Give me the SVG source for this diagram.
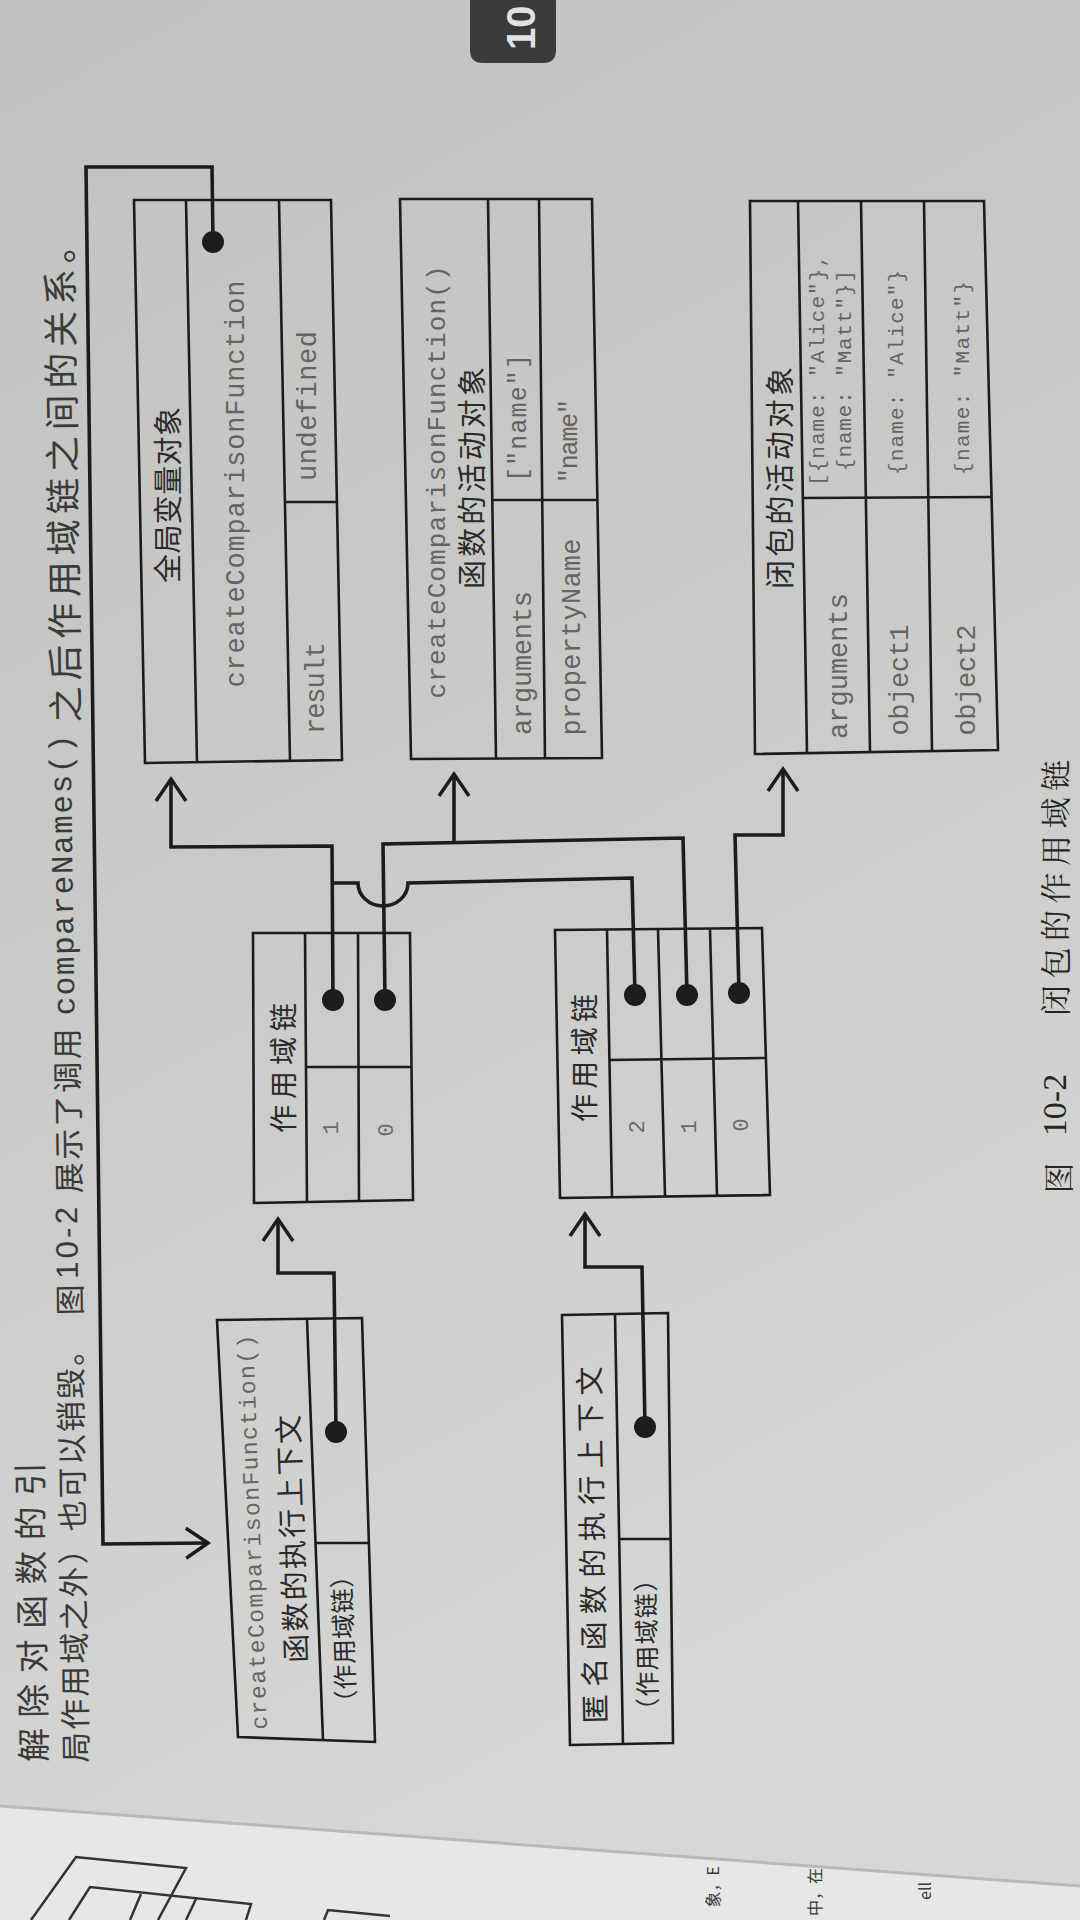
<svg xmlns="http://www.w3.org/2000/svg" width="1080" height="1920" viewBox="0 0 1080 1920">
<defs>
<linearGradient id="paper" x1="0" y1="0" x2="0.3" y2="1">
<stop offset="0" stop-color="#c2c2c0"/>
<stop offset="0.5" stop-color="#cacac8"/>
<stop offset="1" stop-color="#d7d7d5"/>
</linearGradient>
<marker id="arr" viewBox="-26 -18 30 36" markerWidth="30" markerHeight="36" refX="0" refY="0" orient="auto" markerUnits="userSpaceOnUse" overflow="visible">
<path d="M-22,-15 L0,0 L-22,15" fill="none" stroke="#1c1c1c" stroke-width="3.5" stroke-linejoin="miter"/>
</marker>
<style>
.box{fill:none;stroke:#1c1c1c;stroke-width:2.6;stroke-linejoin:miter}
.sep{fill:none;stroke:#1c1c1c;stroke-width:2.6}
.con{fill:none;stroke:#1c1c1c;stroke-width:3.6;stroke-linejoin:miter}
.dot{fill:#1c1c1c}
.m{font-family:"Liberation Mono","DejaVu Sans Mono",monospace;fill:#646464;font-size:27px;text-anchor:middle;dominant-baseline:central}
.ms{font-family:"Liberation Mono","DejaVu Sans Mono",monospace;fill:#646464;font-size:21px;text-anchor:start;dominant-baseline:central}
.c{font-family:"Noto Sans CJK SC","Noto Sans",sans-serif;fill:#2a2a2a;font-size:29px;text-anchor:middle;dominant-baseline:central}
.n{font-family:"Liberation Mono",monospace;fill:#6a6a6a;font-size:22px;text-anchor:middle;dominant-baseline:central}
.p{font-family:"Noto Sans CJK SC","Noto Sans",sans-serif;fill:#3a3a3a;font-size:31px;text-anchor:middle;dominant-baseline:central}
.pm{font-family:"Liberation Mono",monospace;fill:#3a3a3a;font-size:31px;text-anchor:middle;dominant-baseline:central}
.f{font-family:"Noto Sans CJK SC","Noto Sans",sans-serif;fill:#3a3a3a;font-size:16px;text-anchor:end;dominant-baseline:central}
.cap{font-family:"Noto Serif CJK SC","Noto Sans CJK SC",serif;fill:#262626;font-size:31px;text-anchor:middle;dominant-baseline:central}
</style>
</defs>

<g id="page">
<rect x="0" y="0" width="1080" height="1920" fill="url(#paper)"/>
<path d="M0,1806 L1080,1886 L1080,1920 L0,1920 Z" fill="#e7e7e5"/>
<path d="M0,1806 L1080,1886" stroke="#b9b9b7" stroke-width="3" fill="none"/>
<path d="M31,1920 L76,1857 L186,1868 L158,1920" fill="none" stroke="#333" stroke-width="2.5"/>
<path d="M69,1920 L90,1887 L251,1904 L246,1920" fill="none" stroke="#333" stroke-width="2.5"/>
<path d="M141,1894 L130,1920 M196,1899 L186,1920" fill="none" stroke="#333" stroke-width="2.5"/>
<path d="M324,1920 L328,1910 L390,1916" fill="none" stroke="#333" stroke-width="2.5"/>
<path d="M470,-12 L556,-12 L556,50 Q556,63 543,63 L483,63 Q470,63 470,50 Z" fill="#3a3a3a"/>
<text transform="translate(521,50) rotate(-90)" font-family="Liberation Sans,Arial,sans-serif" font-weight="bold" font-size="40" fill="#e2e2e2" dominant-baseline="central">10</text>
<text class="p" transform="translate(30,1612) rotate(-90.8)" style="font-size:34px" textLength="300" lengthAdjust="spacing">解除对函数的引</text>
<text class="p" transform="translate(71,1549) rotate(-90.8)" textLength="428" lengthAdjust="spacing">局作用域之外）也可以销毁。</text>
<text class="p" transform="translate(68,1300) rotate(-90.8)">图</text>
<text class="p" transform="translate(67,1243) rotate(-90.8)" style="font-family:'Liberation Sans',sans-serif" textLength="72" lengthAdjust="spacing">10-2</text>
<text class="p" transform="translate(66,1111) rotate(-90.8)" textLength="165" lengthAdjust="spacing">展示了调用</text>
<text class="pm" transform="translate(64,875) rotate(-90.8)" textLength="281" lengthAdjust="spacing">compareNames()</text>
<text class="p" transform="translate(60,475) rotate(-90.8)" style="font-size:36px" textLength="495" lengthAdjust="spacing">之后作用域链之间的关系。</text>
<text class="f" transform="translate(712,1866) rotate(-90)">象，E</text>
<text class="f" transform="translate(814,1868) rotate(-90)">中，在</text>
<text class="f" transform="translate(924,1882) rotate(-90)">ell</text>
</g>

<g id="global-object">
<path class="box" d="M134,200 L331,200 L342,760 L145,763 Z"/>
<path class="sep" d="M186,200 L197,763 M279,200 L290,761 M285,502 L337,502"/>
<text class="c" transform="translate(166,495) rotate(-90)" textLength="176" lengthAdjust="spacing">全局变量对象</text>
<text class="m" transform="translate(237,484) rotate(-90)" textLength="407" lengthAdjust="spacing">createComparisonFunction</text>
<text class="m" transform="translate(309,406) rotate(-90)" textLength="150" lengthAdjust="spacing">undefined</text>
<text class="m" transform="translate(317,688) rotate(-90)" textLength="92" lengthAdjust="spacing">result</text>
</g>

<g id="cf-activation">
<path class="box" d="M400,199 L592,199 L602,758 L411,759 Z"/>
<path class="sep" d="M488,199 L496,759 M539,199 L545,759 M492,500 L597,500"/>
<text class="m" transform="translate(438,482) rotate(-90)" style="font-size:26px" textLength="433" lengthAdjust="spacing">createComparisonFunction()</text>
<text class="c" transform="translate(470,478) rotate(-90)" textLength="222" lengthAdjust="spacing">函数的活动对象</text>
<text class="m" transform="translate(519,418) rotate(-90)" style="font-size:25px" textLength="128" lengthAdjust="spacing">["name"]</text>
<text class="m" transform="translate(524,663) rotate(-90)" textLength="144" lengthAdjust="spacing">arguments</text>
<text class="m" transform="translate(570,441) rotate(-90)" style="font-size:25px" textLength="84" lengthAdjust="spacing">"name"</text>
<text class="m" transform="translate(573,637) rotate(-90)" textLength="197" lengthAdjust="spacing">propertyName</text>
</g>

<g id="closure-activation">
<path class="box" d="M750,201 L984,201 L998,750 L755,754 Z"/>
<path class="sep" d="M798,201 L807,753 M861,201 L870,752 M924,201 L932,751 M802,498 L991,497"/>
<text class="c" transform="translate(778,478) rotate(-90)" textLength="222" lengthAdjust="spacing">闭包的活动对象</text>
<text class="ms" transform="translate(818,486) rotate(-90)" textLength="231" lengthAdjust="spacing">[{name: "Alice"},</text>
<text class="ms" transform="translate(845,471) rotate(-90)" textLength="201" lengthAdjust="spacing">{name: "Matt"}]</text>
<text class="m" transform="translate(840,666) rotate(-90)" textLength="146" lengthAdjust="spacing">arguments</text>
<text class="ms" transform="translate(897,475) rotate(-90)" textLength="205" lengthAdjust="spacing">{name: "Alice"}</text>
<text class="m" transform="translate(901,680) rotate(-90)" textLength="111" lengthAdjust="spacing">object1</text>
<text class="ms" transform="translate(963,475) rotate(-90)" textLength="194" lengthAdjust="spacing">{name: "Matt"}</text>
<text class="m" transform="translate(968,680) rotate(-90)" textLength="111" lengthAdjust="spacing">object2</text>
</g>

<g id="scope-chain-1">
<path class="box" d="M253,933 L410,933 L413,1200 L254,1203 Z"/>
<path class="sep" d="M305,933 L307,1203 M358,933 L359,1202 M306,1067 L411,1067"/>
<text class="c" transform="translate(282,1068) rotate(-90)" style="font-size:28px" textLength="130" lengthAdjust="spacing">作用域链</text>
<text class="n" transform="translate(332,1128) rotate(-90)">1</text>
<text class="n" transform="translate(387,1130) rotate(-90)">0</text>
</g>

<g id="scope-chain-2">
<path class="box" d="M555,930 L762,928 L770,1195 L560,1198 Z"/>
<path class="sep" d="M607,930 L612,1197 M658,929 L665,1196 M710,929 L717,1196 M609,1060 L766,1058"/>
<text class="c" transform="translate(583,1058) rotate(-90)" style="font-size:28px" textLength="128" lengthAdjust="spacing">作用域链</text>
<text class="n" transform="translate(638,1127) rotate(-90)">2</text>
<text class="n" transform="translate(690,1127) rotate(-90)">1</text>
<text class="n" transform="translate(742,1125) rotate(-90)">0</text>
</g>

<g id="cf-context">
<path class="box" d="M217,1320 L362,1318 L375,1742 L238,1737 Z"/>
<path class="sep" d="M307,1319 L323,1740 M315,1543 L369,1543"/>
<text class="m" transform="translate(254,1532) rotate(-92)" style="font-size:23px" textLength="395" lengthAdjust="spacing">createComparisonFunction()</text>
<text class="c" transform="translate(290,1539) rotate(-92)" textLength="248" lengthAdjust="spacing">函数的执行上下文</text>
<text class="c" transform="translate(342,1639) rotate(-92)" style="font-size:25px" textLength="152" lengthAdjust="spacing">（作用域链）</text>
</g>

<g id="anon-context">
<path class="box" d="M562,1315 L668,1313 L673,1743 L570,1745 Z"/>
<path class="sep" d="M615,1314 L623,1745 M619,1539 L671,1539"/>
<text class="c" transform="translate(590,1545) rotate(-91)" textLength="357" lengthAdjust="spacing">匿名函数的执行上下文</text>
<text class="c" transform="translate(645,1645) rotate(-91)" style="font-size:25px" textLength="156" lengthAdjust="spacing">（作用域链）</text>
</g>

<g id="connectors">
<path class="con" d="M213,242 L212,167 L86,167 L103,1544 L208,1543" marker-end="url(#arr)"/>
<path class="con" d="M333,1000 L332,846 L171,847 L171,779" marker-end="url(#arr)"/>
<path class="con" d="M385,1000 L383,844 L683,838 L687,995"/>
<path class="con" d="M454,841 L454,774" marker-end="url(#arr)"/>
<path class="con" d="M635,995 L632,878 L408,883 A25,23 0 0 1 358,883 L332,883"/>
<path class="con" d="M739,993 L735,835 L783,835 L783,769" marker-end="url(#arr)"/>
<path class="con" d="M336,1432 L334,1273 L278,1273 L278,1219" marker-end="url(#arr)"/>
<path class="con" d="M645,1427 L642,1267 L585,1267 L585,1214" marker-end="url(#arr)"/>
<circle class="dot" cx="213" cy="242" r="11"/>
<circle class="dot" cx="333" cy="1000" r="11"/>
<circle class="dot" cx="385" cy="1000" r="11"/>
<circle class="dot" cx="635" cy="995" r="11"/>
<circle class="dot" cx="687" cy="995" r="11"/>
<circle class="dot" cx="739" cy="993" r="11"/>
<circle class="dot" cx="336" cy="1432" r="11"/>
<circle class="dot" cx="645" cy="1427" r="11"/>
</g>

<g id="caption">
<text class="cap" transform="translate(1056,1178) rotate(-90)">图</text>
<text class="cap" transform="translate(1054,1105) rotate(-90)" style="font-family:'Liberation Serif',serif;font-size:34px">10-2</text>
<text class="cap" transform="translate(1053,888) rotate(-90)" textLength="256" lengthAdjust="spacing">闭包的作用域链</text>
</g>
</svg>
